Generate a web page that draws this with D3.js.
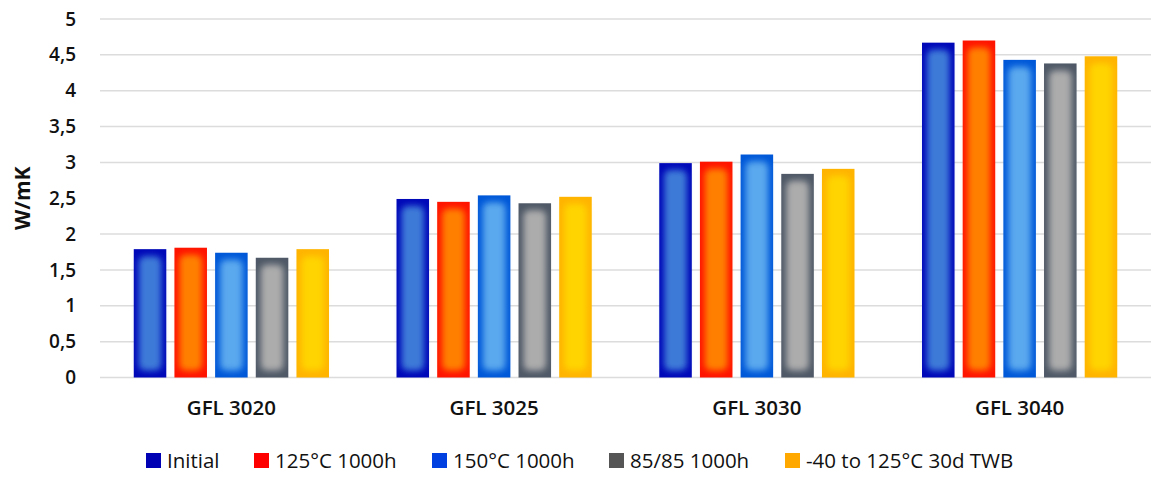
<!DOCTYPE html>
<html>
<head>
<meta charset="utf-8">
<script src="https://cdn.jsdelivr.net/npm/d3@7/dist/d3.min.js"></script>
<style>
  html, body { margin: 0; padding: 0; background: #fff; }
  text { font-family: "Open Sans", "Noto Sans", sans-serif; fill: #111; }
</style>
</head>
<body>
<svg id="chart" width="1151" height="477"></svg>
<script>
const categories = ["GFL 3020", "GFL 3025", "GFL 3030", "GFL 3040"];
const seriesNames = ["Initial", "125°C 1000h", "150°C 1000h", "85/85 1000h", "-40 to 125°C 30d TWB"];
const initial = [1.79, 2.49, 2.99, 4.67];
const c125 = [1.81, 2.45, 3.01, 4.70];
const c150 = [1.74, 2.54, 3.11, 4.43];
const damp = [1.67, 2.43, 2.84, 4.38];
const twb = [1.79, 2.52, 2.91, 4.48];
const yTicks = [0, 0.5, 1, 1.5, 2, 2.5, 3, 3.5, 4, 4.5, 5];
// the 2.5 grid line is missing in the original
const gridTicks = [0, 0.5, 1, 1.5, 2, 3, 3.5, 4, 4.5, 5];

const values = [initial, c125, c150, damp, twb];

// edge colour, centre colour, legend swatch
const palette = [
  { edge: "#0008b8", mid: "#3c7ad8", key: "#0000b4" },
  { edge: "#ff1400", mid: "#ff8000", key: "#ff0000" },
  { edge: "#0058d8", mid: "#5aa8ee", key: "#0040e0" },
  { edge: "#4e5866", mid: "#acacac", key: "#555555" },
  { edge: "#ffb400", mid: "#ffd400", key: "#ffa800" }
];

const svg = d3.select("#chart");
const margin = { left: 100, right: 0, top: 19, bottom: 100 };
const W = 1151, H = 477;

const x0 = d3.scaleBand().domain(categories).range([margin.left, W - margin.right]).paddingInner(0).paddingOuter(0);
const x1 = d3.scaleBand().domain(d3.range(seriesNames.length)).range([0, x0.bandwidth()]).paddingInner(0.2).paddingOuter(0.83);
const y = d3.scaleLinear().domain([0, 5]).range([377.5, margin.top]);

const defs = svg.append("defs");
defs.append("filter").attr("id", "soft")
  .attr("x", "-50%").attr("y", "-50%").attr("width", "200%").attr("height", "200%")
  .append("feGaussianBlur").attr("stdDeviation", 3);

// grid
svg.append("g")
  .selectAll("line")
  .data(gridTicks)
  .join("line")
  .attr("x1", margin.left).attr("x2", W)
  .attr("y1", d => y(d)).attr("y2", d => y(d))
  .attr("stroke", "#dcdcdc").attr("stroke-width", 1.5);

// y axis labels
const yAxis = d3.axisLeft(y).tickValues(yTicks).tickSize(0).tickPadding(0)
  .tickFormat(d => d3.format("")(d).replace(".", ","));
svg.append("g")
  .attr("transform", "translate(76,0)")
  .call(yAxis)
  .call(g => g.select(".domain").remove())
  .call(g => g.selectAll("text")
    .style("font-family", "'Open Sans', sans-serif")
    .attr("font-size", 19).attr("font-weight", 600).attr("fill", "#111"));

svg.append("text")
  .attr("transform", `translate(30,${y(2.5)}) rotate(-90)`)
  .attr("text-anchor", "middle")
  .attr("font-size", 21).attr("font-weight", 700)
  .text("W/mK");

// bars
const groups = svg.append("g").selectAll("g")
  .data(categories)
  .join("g")
  .attr("transform", d => `translate(${x0(d)},0)`);

const bars = groups.selectAll("g")
  .data((c, ci) => values.map((s, si) => ({ si, v: s[ci] })))
  .join("g");

const inset = 5;
bars.append("rect")
  .attr("x", d => x1(d.si))
  .attr("y", d => y(d.v))
  .attr("width", x1.bandwidth())
  .attr("height", d => y(0) - y(d.v))
  .attr("fill", d => palette[d.si].edge);

bars.append("rect")
  .attr("x", d => x1(d.si) + inset)
  .attr("y", d => y(d.v) + inset + 2)
  .attr("width", x1.bandwidth() - inset * 2)
  .attr("height", d => y(0) - y(d.v) - inset * 2 - 4)
  .attr("rx", 6)
  .attr("fill", d => palette[d.si].mid)
  .attr("filter", "url(#soft)");

// category labels
svg.append("g").selectAll("text")
  .data(categories)
  .join("text")
  .attr("x", d => x0(d) + x0.bandwidth() / 2)
  .attr("y", 415)
  .attr("text-anchor", "middle")
  .attr("font-size", 20.5).attr("font-weight", 600)
  .text(d => d);

// legend
const legendX = [146, 254, 432, 609, 785];
const legend = svg.append("g").selectAll("g")
  .data(seriesNames)
  .join("g")
  .attr("transform", (d, i) => `translate(${legendX[i]},453)`);
legend.append("rect")
  .attr("width", 15).attr("height", 15)
  .attr("fill", (d, i) => palette[i].key);
legend.append("text")
  .attr("x", 21).attr("y", 15)
  .attr("font-size", 20.5).attr("font-weight", 500)
  .text(d => d);
</script>
</body>
</html>
